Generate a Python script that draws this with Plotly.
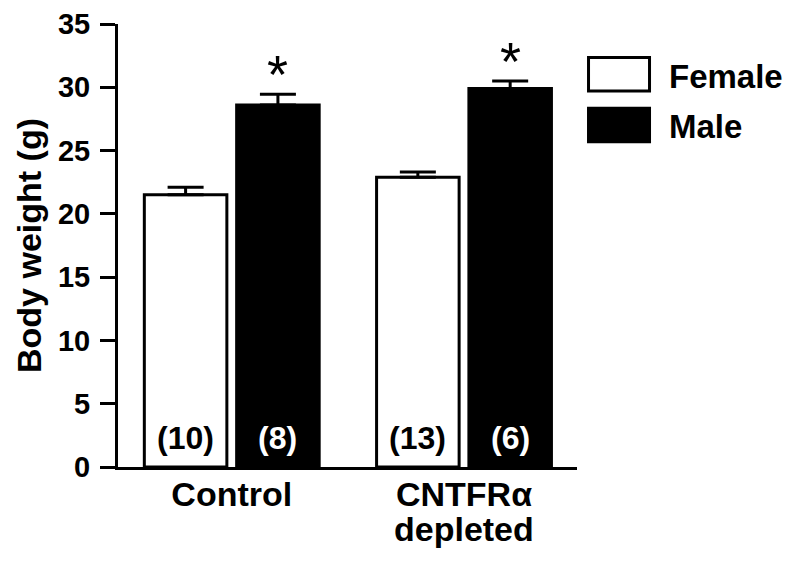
import plotly.graph_objects as go

# ---- data ----
groups = ["Control", "CNTFRα"]
group_second_line = ["", "depleted"]
series_names = ["Female", "Male"]
female_mean = [21.5, 22.9]
male_mean = [28.6, 29.9]
female_sem = [0.6, 0.4]
male_sem = [0.85, 0.6]
female_n = ["(10)", "(13)"]
male_n = ["(8)", "(6)"]
significant_male = [True, True]
y_ticks = [0, 5, 10, 15, 20, 25, 30, 35]

FONT = "Liberation Sans, Arial, Helvetica, sans-serif"
BARGAP = 0.205
SLOT = (1 - BARGAP) / 4  # offset of each bar centre from category centre

fig = go.Figure()
fig.add_trace(go.Bar(
    name=series_names[0], x=groups, y=female_mean,
    marker=dict(color="white", line=dict(color="black", width=3)),
    error_y=dict(type="data", symmetric=False, array=female_sem,
                 arrayminus=[0] * len(female_sem), color="black",
                 thickness=3, width=18),
    showlegend=False,
))
fig.add_trace(go.Bar(
    name=series_names[1], x=groups, y=male_mean,
    marker=dict(color="black", line=dict(color="black", width=3)),
    error_y=dict(type="data", symmetric=False, array=male_sem,
                 arrayminus=[0] * len(male_sem), color="black",
                 thickness=3, width=18),
    showlegend=False,
))

annotations = []
# sample sizes inside bars
for i, g in enumerate(groups):
    for off, txt, col in ((-SLOT, female_n[i], "black"), (SLOT, male_n[i], "white")):
        annotations.append(dict(
            x=i + off, xref="x", y=0, yref="y", text=txt, showarrow=False,
            xanchor="center", yanchor="bottom", yshift=9,
            font=dict(family=FONT, size=32, color=col, weight="bold"),
        ))
# significance stars above male bars
for i, g in enumerate(groups):
    if significant_male[i]:
        annotations.append(dict(
            x=i + SLOT, xref="x", y=male_mean[i] + male_sem[i], yref="y",
            text="*", showarrow=False, yanchor="bottom", xanchor="center",
            yshift=-12, font=dict(family=FONT, size=54, color="black"),
        ))
# second line of category labels
for i, g in enumerate(groups):
    if group_second_line[i]:
        annotations.append(dict(
            x=g, xref="x", y=0, yref="y", text=group_second_line[i],
            showarrow=False, yanchor="top", yshift=-41,
            font=dict(family=FONT, size=34, color="black", weight="bold"),
        ))

# manual legend (large swatches)
legend_fill = ["white", "black"]
shapes = []
for k, name in enumerate(series_names):
    y_top = 0.9244 - k * 0.1145
    y_bot = 0.8488 - k * 0.1145
    shapes.append(dict(type="rect", xref="paper", yref="paper",
                       x0=1.0251, x1=1.1580, y0=y_bot, y1=y_top,
                       fillcolor=legend_fill[k],
                       line=dict(color="black", width=3)))
    annotations.append(dict(
        x=1.1960, xref="paper", y=(y_top + y_bot) / 2, yref="paper",
        text=name, showarrow=False, xanchor="left", yanchor="middle",
        yshift=-2,
        font=dict(family=FONT, size=33, color="black", weight="bold"),
    ))

fig.update_layout(
    width=784, height=554,
    margin=dict(l=110, r=215, t=16, b=95, autoexpand=False),
    paper_bgcolor="white", plot_bgcolor="white",
    barmode="group", bargap=BARGAP, bargroupgap=0.106,
    font=dict(family=FONT, color="black"),
    annotations=annotations, shapes=shapes,
    showlegend=False,
)
fig.update_xaxes(
    range=[-0.4898, 1.4865], showline=True, linecolor="black", linewidth=3,
    ticks="", showgrid=False, zeroline=False, automargin=False,
    tickfont=dict(family=FONT, size=34, color="black", weight="bold"),
    ticklabelstandoff=-5,
)
fig.update_yaxes(
    range=[0, 35], tickvals=y_ticks, showline=True, linecolor="black",
    linewidth=3, ticks="outside", ticklen=15, tickwidth=3, tickcolor="black",
    showgrid=False, zeroline=False, automargin=False,
    tickfont=dict(family=FONT, size=29, color="black", weight="bold"),
    ticklabelstandoff=4,
    title=dict(text="Body weight (g)", standoff=7,
               font=dict(family=FONT, size=34, color="black", weight="bold")),
)

fig.write_html("out.html")
